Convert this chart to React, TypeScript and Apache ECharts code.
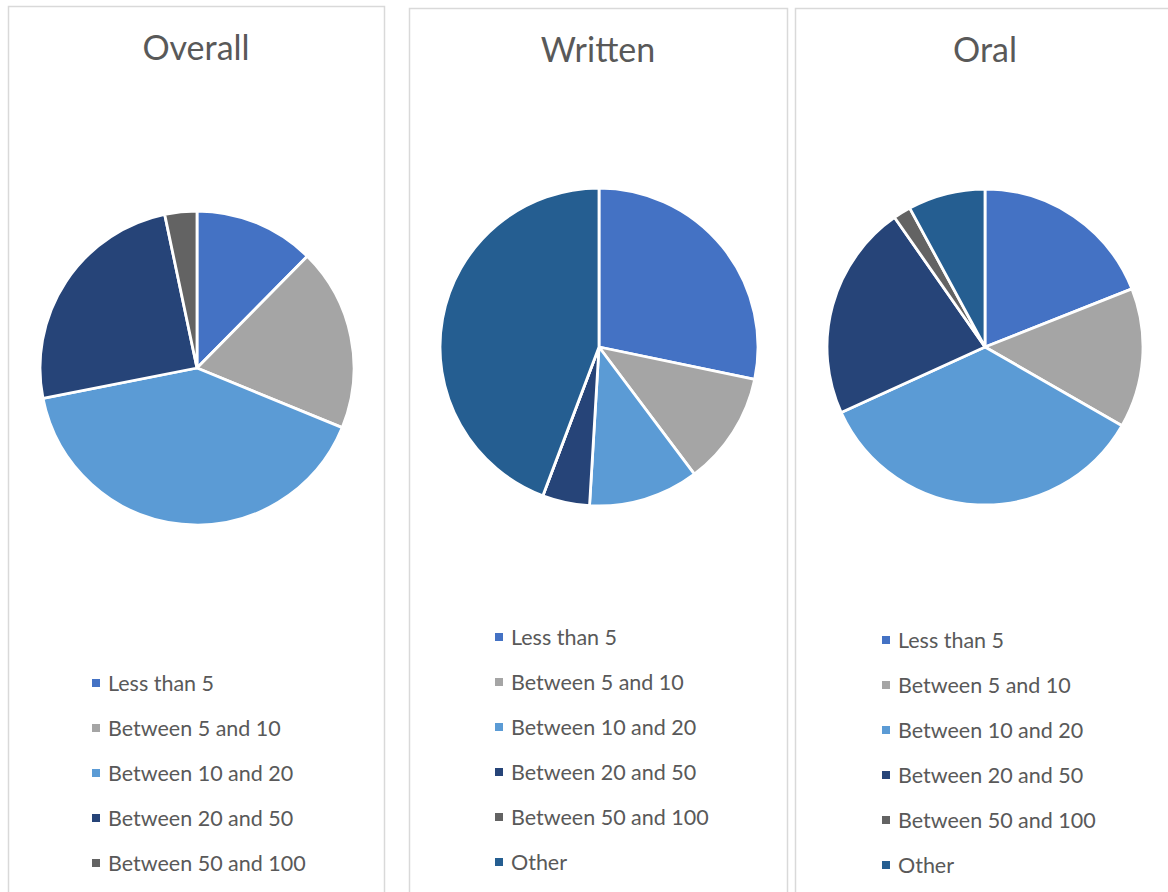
import React, { useEffect, useRef } from "react";
import * as echarts from "echarts";

const overallNames = ["Less than 5", "Between 5 and 10", "Between 10 and 20", "Between 20 and 50", "Between 50 and 100"];
const allNames = [...overallNames, "Other"];
const overallValues = [12.4, 18.8, 40.7, 24.8, 3.3];
const writtenValues = [28.3, 11.5, 11.2, 4.8, 0, 44.3];
const oralValues = [19.0, 14.3, 34.9, 22.1, 1.8, 7.9];
const panelTitles = ["Overall", "Written", "Oral"];
const colors = ["#4472C4", "#A5A5A5", "#5B9BD5", "#264478", "#636363", "#255E91"];

const FONT = "Lato";
const TEXT = "#595959";

export default function App() {
  const ref = useRef<HTMLDivElement>(null);
  useEffect(() => {
    const chart = echarts.init(ref.current!, null, { renderer: "svg" });
    const mk = (names: string[], vals: number[]) =>
      names.map((n, i) => ({ name: n, value: vals[i], itemStyle: { color: colors[i] } }));
    const pieBase = {
      type: "pie",
      startAngle: 90,
      clockwise: true,
      label: { show: false },
      labelLine: { show: false },
      emphasis: { disabled: true },
      itemStyle: { borderColor: "#ffffff", borderWidth: 2.8 },
      avoidLabelOverlap: false,
    };
    const legendBase = {
      orient: "vertical",
      icon: "rect",
      itemWidth: 10,
      itemHeight: 10,
      itemGap: 23,
      padding: 0,
      selectedMode: false,
      textStyle: { fontFamily: FONT, fontSize: 21.5, color: TEXT, lineHeight: 22, padding: [0, 0, 0, 2] },
    };
    const titleBase = {
      padding: 0,
      textStyle: { fontFamily: FONT, fontSize: 34, fontWeight: "normal", color: TEXT },
      textAlign: "center",
    };
    chart.setOption({
      animation: false,
      color: colors,
      title: [
        { ...titleBase, text: panelTitles[0], left: 196, top: 29 },
        { ...titleBase, text: panelTitles[1], left: 598, top: 31 },
        { ...titleBase, text: panelTitles[2], left: 985, top: 31 },
      ],
      graphic: [
        { type: "rect", shape: { x: 8.5, y: 6.5, width: 376, height: 900 }, style: { fill: "none", stroke: "#D9D9D9", lineWidth: 1.5 }, silent: true },
        { type: "rect", shape: { x: 409.5, y: 8.5, width: 378, height: 900 }, style: { fill: "none", stroke: "#D9D9D9", lineWidth: 1.5 }, silent: true },
        { type: "rect", shape: { x: 795.5, y: 8.5, width: 400, height: 900 }, style: { fill: "none", stroke: "#D9D9D9", lineWidth: 1.5 }, silent: true },
      ],
      legend: [
        { ...legendBase, data: overallNames, left: 90, top: 672 },
        { ...legendBase, data: allNames, left: 493, top: 626 },
        { ...legendBase, data: allNames, left: 880, top: 629 },
      ],
      series: [
        { ...pieBase, name: "Overall", center: [197, 368], radius: [0, 157], data: mk(overallNames, overallValues) },
        { ...pieBase, name: "Written", center: [599, 347], radius: [0, 159], data: mk(allNames, writtenValues) },
        { ...pieBase, name: "Oral", center: [985, 347], radius: [0, 158], data: mk(allNames, oralValues) },
      ],
    });
    return () => chart.dispose();
  }, []);
  return (
    <div
      ref={ref}
      style={{ position: "absolute", left: 0, top: 0, width: 1168, height: 892, background: "#ffffff" }}
    />
  );
}
